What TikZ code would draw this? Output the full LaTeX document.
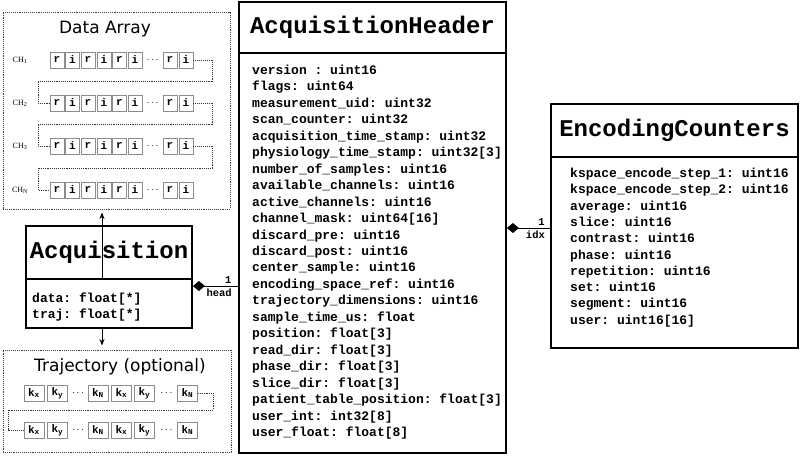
\documentclass[tikz,border=0pt]{standalone}
\usepackage{fontspec}
\setmonofont{Liberation Mono}
\newfontfamily\dejavu{DejaVu Sans}
\newfontfamily\lserif{Liberation Serif}
\usetikzlibrary{arrows.meta}
\begin{document}
\begin{tikzpicture}[x=1pt,y=-1pt,
  umltitle/.style={draw, line width=1.8pt, fill=white, inner sep=0pt, outer sep=0pt, anchor=north west, font=\ttfamily\bfseries\fontsize{24}{24}\selectfont},
  umlbody/.style={draw, line width=1.8pt, fill=white, inner sep=0pt, outer sep=0pt, anchor=north west},
  field/.style={anchor=base west, inner sep=0pt, font=\ttfamily\bfseries\fontsize{13}{13}\selectfont},
  grpbox/.style={draw=black!75, densely dotted, line width=0.9pt, anchor=north west, inner sep=0pt, outer sep=0pt},
  grptitle/.style={font=\dejavu\fontsize{17}{17}\selectfont, inner sep=0pt},
  cell/.style={draw=black!45, line width=0.8pt, minimum width=14pt, minimum height=16pt, inner sep=0pt, font=\ttfamily\bfseries\fontsize{11}{11}\selectfont},
  tcell/.style={cell, minimum width=20pt},
  dotsnode/.style={inner sep=0pt, font=\fontsize{10}{10}\selectfont},
  chainline/.style={draw=black!80, densely dotted, line width=0.9pt},
  chlabel/.style={font=\lserif\fontsize{8}{8}\selectfont, inner sep=0pt},
  assoc/.style={line width=1pt, {Diamond[length=12pt,width=10pt]}-},
  mult/.style={font=\ttfamily\bfseries\fontsize{10.5}{10.5}\selectfont, inner sep=2pt}
]
\useasboundingbox (0,0) rectangle (800,456);

% ---------------- Data Array ----------------
\node[grpbox, minimum width=227pt, minimum height=197pt] (da) at (3,12) {};
\node[grptitle] (dat) at (105,29) {Data Array};
\foreach \r/\y/\s in {1/60/1, 2/103/2, 3/146/3, 4/190/N} {
  \node[chlabel] (ch\r) at (20,\y) {CH\textsubscript{\s}};
  \foreach \c/\x/\l in {1/57/r, 2/72.5/i, 3/88/r, 4/104/i, 5/119.5/r, 6/135/i, 7/170/r, 8/186/i} {
    \node[cell] (d\r-\c) at (\x,\y) {\l};
  }
  \node[dotsnode] (dd\r) at (152.5,\y) {$\cdots$};
}
\foreach \r/\n/\m in {1/2/81.5, 2/3/124.5, 3/4/168} {
  \draw[chainline] (d\r-8.east) -| (212,\m) -- (38,\m) |- (d\n-1.west);
}

% ---------------- Trajectory ----------------
\node[grpbox, minimum width=228pt, minimum height=102pt] (tr) at (3,350) {};
\node[grptitle] (trt) at (120,367) {Trajectory (optional)};
\foreach \r/\y in {1/393, 2/430} {
  \foreach \c/\x/\l in {1/34/x, 2/57.5/y, 3/98/N, 4/121.5/x, 5/144.5/y, 6/187.5/N} {
    \node[tcell] (t\r-\c) at (\x,\y) {k\textsubscript{\l}};
  }
  \node[dotsnode] (ta\r) at (78,\y) {$\cdots$};
  \node[dotsnode] (tb\r) at (166.5,\y) {$\cdots$};
}
\draw[chainline] (t1-6.east) -| (213,410) -- (8,410) |- (t2-1.west);

% ---------------- Acquisition ----------------
\node[umltitle, minimum width=166pt, minimum height=53pt] (at) at (26,226) {Acquisition};
\coordinate (ax) at (102,0);
\draw[line width=0.9pt, {Stealth[length=6.5pt,width=5pt]}-{Stealth[length=6.5pt,width=5pt]}, shorten <=3.5pt, shorten >=4.5pt] (da.south -| ax) -- (tr.north -| ax);
\node[umlbody, minimum width=166pt, minimum height=49pt] (ab) at (at.south west) {};
\node[field] (af1) at (32,302.5) {data: float[*]};
\node[field] (af2) at (32,318.5) {traj: float[*]};

% ---------------- AcquisitionHeader ----------------
\node[umltitle, minimum width=267pt, minimum height=51pt] (aht) at (239,2) {AcquisitionHeader};
\node[umlbody, minimum width=267pt, minimum height=400pt] (ahb) at (aht.south west) {};
\foreach \t [count=\i] in {version : uint16, flags: uint64, measurement\_uid: uint32, scan\_counter: uint32, acquisition\_time\_stamp: uint32, physiology\_time\_stamp: uint32[3], number\_of\_samples: uint16, available\_channels: uint16, active\_channels: uint16, channel\_mask: uint64[16], discard\_pre: uint16, discard\_post: uint16, center\_sample: uint16, encoding\_space\_ref: uint16, trajectory\_dimensions: uint16, sample\_time\_us: float, position: float[3], read\_dir: float[3], phase\_dir: float[3], slice\_dir: float[3], patient\_table\_position: float[3], user\_int: int32[8], user\_float: float[8]} {
  \node[field] (hf\i) at (252,{74.5+16.455*(\i-1)}) {\t};
}

% ---------------- EncodingCounters ----------------
\node[umltitle, minimum width=247pt, minimum height=53pt] (ect) at (551,104) {EncodingCounters};
\node[umlbody, minimum width=247pt, minimum height=191pt] (ecb) at (ect.south west) {};
\foreach \t [count=\i] in {kspace\_encode\_step\_1: uint16, kspace\_encode\_step\_2: uint16, average: uint16, slice: uint16, contrast: uint16, phase: uint16, repetition: uint16, set: uint16, segment: uint16, user: uint16[16]} {
  \node[field] (ef\i) at (570,{177.5+16.3*(\i-1)}) {\t};
}

% ---------------- Associations ----------------
\coordinate (y1) at (0,286);
\draw[assoc] ([xshift=0.9pt]ab.east |- y1) -- node[mult, pos=0.78, anchor=south] (m1) {1} node[mult, pos=0.58, anchor=north] (r1) {head} ([xshift=-0.9pt]ahb.west |- y1);
\coordinate (y2) at (0,228);
\draw[assoc] ([xshift=0.9pt]ahb.east |- y2) -- node[mult, pos=0.8, anchor=south] (m2) {1} node[mult, pos=0.66, anchor=north] (r2) {idx} ([xshift=-0.9pt]ecb.west |- y2);
\end{tikzpicture}
\end{document}
